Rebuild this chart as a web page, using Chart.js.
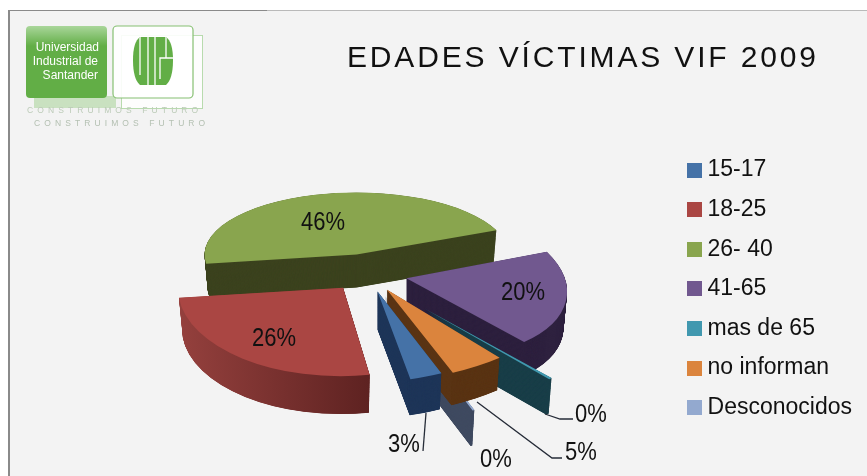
<!DOCTYPE html>
<html><head><meta charset="utf-8">
<style>html,body{margin:0;padding:0;background:#fff}#w{position:relative;width:867px;height:476px}</style>
<script src="https://cdn.jsdelivr.net/npm/chart.js@4"></script>
</head><body><div id="w"><canvas id="c" width="867" height="476"></canvas></div>
<script>
const titleText = 'EDADES VÍCTIMAS VIF 2009';
const categories = ['15-17','18-25','26- 40','41-65','mas de 65','no informan','Desconocidos'];
const values = [3,26,46,20,0.35,4.6,0.2];
const faceColors = ['#4572A7','#AA4643','#89A54E','#71588F','#4198AF','#DB843D','#93A9CF'];
const wallColors = ['#1f3659','#7a2f2d','#3c431f','#2e213f','#1a3f49','#5a3414','#3f4a60'];

// 3-D look: each slice is pushed out, flattened and extruded
const pieRotation = 161, pieRadius = 165, pieCenter = [368,273], flatten = 0.47;
const explode = [40,40,40,40,95,40,50];
const tilt = [[1.04,-.066,.052,.548,0,0],[1.0,-.017,.018,.536,0,0],[.92,-.024,.06,.376,-3,0],[.96,0,.163,.486,0,0],
              [1.0,0,.2,.53,0,0],[1.128,-.064,.021,.559,0,0],[1.0,0,.22,.74,0,0]];
const depth = [38,40,33,36,37,34,38];
const drawOrder = [2,3,4,6,5,0,1];
const labelSpots = [[404,445],[274,339],[323,223],[523,293],[591,415],[581,453],[496,460]];
const leaders = [[[426,413],[423,451]],null,null,null,[[545,414],[560,419],[573,419]],[[477,402],[552,458],[562,458]],null];

function swatch(color){
  const s=document.createElement('canvas'); s.width=15; s.height=15;
  const g=s.getContext('2d'); g.fillStyle=color; g.fillRect(0,0,15,15); return s;
}
const swatches = faceColors.map(swatch);

function drawLogo(ctx){
  ctx.save();
  ctx.fillStyle='rgba(150,205,130,.45)';
  ctx.fillRect(34,96,82,12);
  ctx.fillStyle='rgba(255,255,255,.8)'; ctx.strokeStyle='rgba(120,190,100,.5)'; ctx.lineWidth=1;
  ctx.fillRect(121.5,35.5,81,73); ctx.strokeRect(121.5,35.5,81,73);
  const g=ctx.createLinearGradient(0,26,0,46);
  g.addColorStop(0,'#a9d69a'); g.addColorStop(1,'#62ae46');
  ctx.fillStyle=g; ctx.beginPath(); ctx.roundRect(26,26,81,72,4); ctx.fill();
  ctx.fillStyle='rgba(255,255,255,.9)'; ctx.strokeStyle='#86c072'; ctx.lineWidth=1.2;
  ctx.beginPath(); ctx.roundRect(113,26,80,72,4); ctx.fill(); ctx.stroke();
  ctx.save();
  ctx.beginPath();
  ctx.moveTo(140,37); ctx.lineTo(166,37);
  ctx.quadraticCurveTo(173,42,173,60); ctx.quadraticCurveTo(173,79,166,85);
  ctx.lineTo(140,85); ctx.quadraticCurveTo(133,79,133,60); ctx.quadraticCurveTo(133,42,140,37); ctx.closePath();
  ctx.fillStyle='#62ae46'; ctx.fill(); ctx.clip();
  ctx.strokeStyle='#fff'; ctx.lineWidth=1.3;
  ctx.beginPath();
  ctx.moveTo(140,37); ctx.lineTo(140,75);
  ctx.moveTo(148,37); ctx.lineTo(148,85);
  ctx.moveTo(155,37); ctx.lineTo(155,85);
  ctx.moveTo(166,37); ctx.lineTo(166,58); ctx.lineTo(173,58);
  ctx.moveTo(173,58); ctx.lineTo(160,58); ctx.lineTo(160,79);
  ctx.stroke();
  ctx.restore();
  ctx.fillStyle='#fff'; ctx.font='12px "Liberation Sans"'; ctx.textAlign='right'; ctx.textBaseline='middle';
  ctx.fillText('Universidad',99,48); ctx.fillText('Industrial de',98,62); ctx.fillText('Santander',98,76);
  ctx.textAlign='left'; ctx.font='8.5px "Liberation Sans"'; ctx.letterSpacing='4.1px';
  ctx.fillStyle='#bccbb8'; ctx.fillText('CONSTRUIMOS FUTURO',27,111);
  ctx.fillStyle='#b4c0b2'; ctx.fillText('CONSTRUIMOS FUTURO',34,124);
  ctx.restore();
}

const backdrop = {
  id:'backdrop',
  beforeDraw(chart){
    const ctx=chart.ctx;
    ctx.save();
    ctx.fillStyle='#f3f3f3'; ctx.fillRect(8,10,859,466);
    ctx.fillStyle='#b9b9b9'; ctx.fillRect(267,10,600,1);
    ctx.fillStyle='#8a8a8a'; ctx.fillRect(8,10,259,1); ctx.fillRect(8,10,2,466);
    drawLogo(ctx);
    ctx.restore();
    const t=chart.titleBlock;
    if(t && !t.$spaced){
      const orig=t.draw.bind(t);
      t.draw=function(a){t.ctx.save();t.ctx.letterSpacing='2.85px';orig(a);t.ctx.restore();};
      t.$spaced=true;
    }
  }
};

const pie3d = {
  id:'pie3d',
  beforeDatasetDraw(){ return false; },
  afterDatasetsDraw(chart){
    const ctx=chart.ctx, arcs=chart.getDatasetMeta(0).data;
    const place=(arc,i,k)=>{
      const mid=(arc.startAngle+arc.endAngle)/2, e=explode[i], m=tilt[i], s=1-0.0006*k;
      ctx.translate(pieCenter[0]+Math.cos(mid)*e, pieCenter[1]+Math.sin(mid)*e*flatten+k);
      ctx.scale(s,s);
      ctx.transform(m[0],m[1],m[2],m[3],m[4],m[5]);
      ctx.translate(-arc.x,-arc.y);
    };
    drawOrder.forEach(i=>{
      const arc=arcs[i], base=arc.options;
      let wall=wallColors[i];
      if(i===1){
        const g=ctx.createLinearGradient(arc.x-165,0,arc.x+30,0);
        g.addColorStop(0,'#94403d'); g.addColorStop(1,'#5c2120'); wall=g;
      }
      arc.options=Object.assign({},base,{backgroundColor:wall});
      for(let k=depth[i];k>0;k-=0.25){ ctx.save(); place(arc,i,k); arc.draw(ctx); ctx.restore(); }
      arc.options=base;
      ctx.save(); place(arc,i,0); arc.draw(ctx); ctx.restore();
    });
    ctx.save(); ctx.strokeStyle='#262c38'; ctx.lineWidth=1.3;
    leaders.forEach(l=>{ if(!l) return; ctx.beginPath(); l.forEach((p,n)=>n?ctx.lineTo(p[0],p[1]):ctx.moveTo(p[0],p[1])); ctx.stroke(); });
    ctx.fillStyle='#111'; ctx.font='25px "Liberation Sans"';
    ctx.textAlign='center'; ctx.textBaseline='middle';
    values.forEach((v,i)=>{
      ctx.save(); ctx.translate(labelSpots[i][0],labelSpots[i][1]); ctx.scale(.88,1);
      ctx.fillText(Math.round(v)+'%',0,0); ctx.restore();
    });
    ctx.restore();
  }
};

new Chart(document.getElementById('c'),{
  type:'pie',
  data:{labels:categories,datasets:[{data:values,backgroundColor:faceColors,borderWidth:0}]},
  plugins:[backdrop,pie3d],
  options:{
    responsive:false,animation:false,devicePixelRatio:1,
    rotation:pieRotation,radius:pieRadius,
    layout:{padding:{top:41,right:5,left:347,bottom:0}},
    events:[],
    plugins:{
      tooltip:{enabled:false},
      title:{display:true,text:titleText,align:'start',color:'#111',
        font:{family:'"Liberation Sans"',size:30,weight:'normal'},padding:{top:0,bottom:65}},
      legend:{position:'right',align:'start',fullSize:false,
        labels:{color:'#111',font:{family:'"Liberation Sans"',size:23},boxWidth:3,boxHeight:15,usePointStyle:true,padding:16.6,
          generateLabels(chart){
            const items=Chart.overrides.pie.plugins.legend.labels.generateLabels(chart);
            items.forEach((it,i)=>{it.pointStyle=swatches[i];});
            return items;
          }}}
    }
  }
});
</script></body></html>
